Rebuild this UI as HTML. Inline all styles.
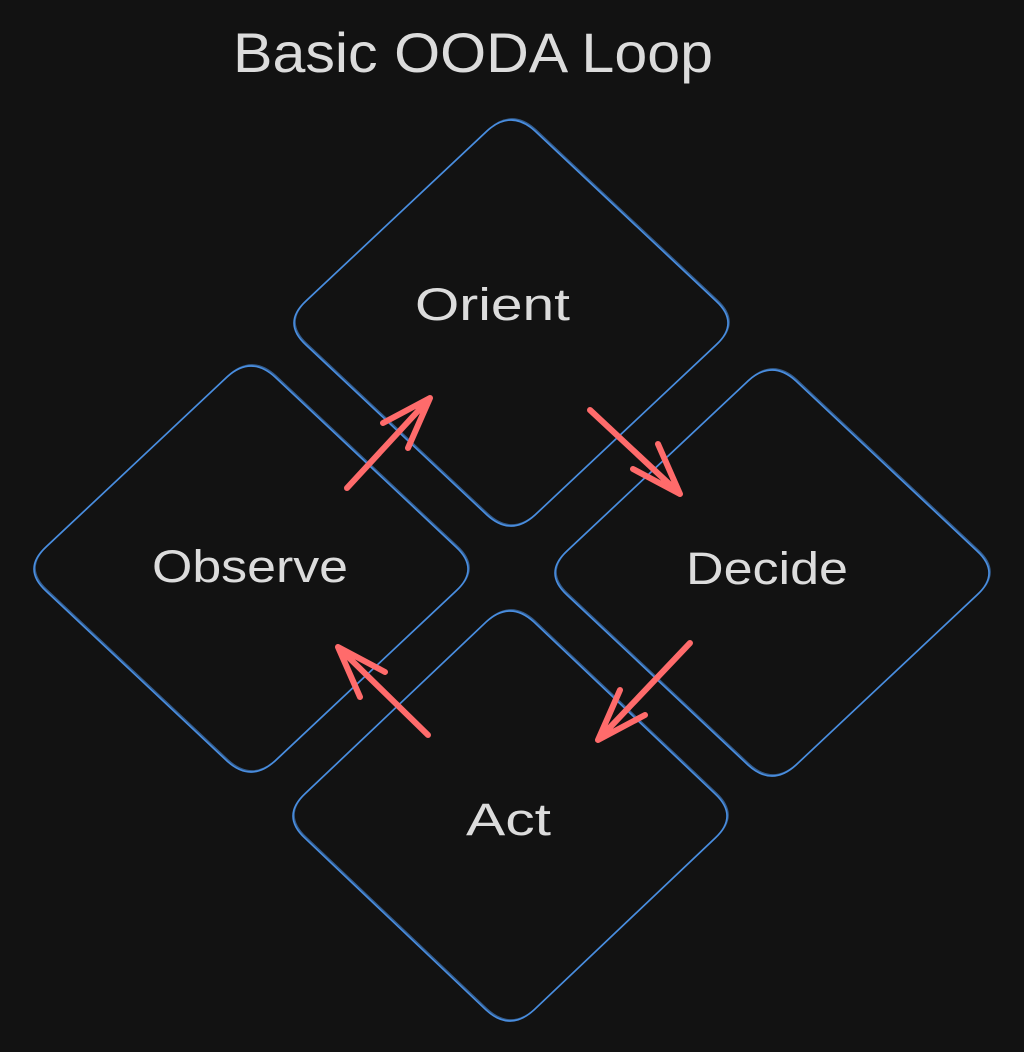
<!DOCTYPE html>
<html><head><meta charset="utf-8"><style>
html,body{margin:0;padding:0;background:#121212;}
svg{display:block}
text{font-family:"Liberation Sans",sans-serif;fill:#dcdcdc;}
</style></head><body>
<svg width="1024" height="1052" viewBox="0 0 1024 1052" xmlns="http://www.w3.org/2000/svg">
<rect width="1024" height="1052" fill="#121212"/>
<defs>
<path id="d" d="M -24,-192 Q 0,-214 24,-192 L 205,-22 Q 229,0 205,22 L 24,192 Q 0,214 -24,192 L -205,22 Q -229,0 -205,-22 Z"/>
</defs>
<g fill="none" stroke="#4a8ee0" stroke-width="1.6">
<use href="#d" transform="translate(511,323)"/>
<use href="#d" transform="translate(512,322)" opacity="0.6"/>
<use href="#d" transform="translate(251,569)"/>
<use href="#d" transform="translate(252,568)" opacity="0.6"/>
<use href="#d" transform="translate(772,573)"/>
<use href="#d" transform="translate(773,572)" opacity="0.6"/>
<use href="#d" transform="translate(510,816) scale(1,1.01)"/>
<use href="#d" transform="translate(511,815) scale(1,1.01)" opacity="0.6"/>
</g>
<g fill="none" stroke="#ff6b6b" stroke-width="6" stroke-linecap="round" stroke-linejoin="round">
<path d="M347,488 L430,398 M383,423 L430,398 L408,448"/>
<path d="M590,410 L680,494 M633,469 L680,494 L658,444"/>
<path d="M690,643 L598,740 M645,715 L598,740 L620,690"/>
<path d="M428,735 L338,647 M385,672 L338,647 L360,697"/>
</g>
<text x="233" y="72" font-size="56" textLength="480" lengthAdjust="spacingAndGlyphs">Basic OODA Loop</text>
<text x="415" y="320" font-size="45" textLength="155" lengthAdjust="spacingAndGlyphs">Orient</text>
<text x="152" y="582" font-size="45" textLength="196" lengthAdjust="spacingAndGlyphs">Observe</text>
<text x="686" y="584" font-size="45" textLength="162" lengthAdjust="spacingAndGlyphs">Decide</text>
<text x="466" y="835" font-size="45" textLength="85" lengthAdjust="spacingAndGlyphs">Act</text>
</svg>
</body></html>
